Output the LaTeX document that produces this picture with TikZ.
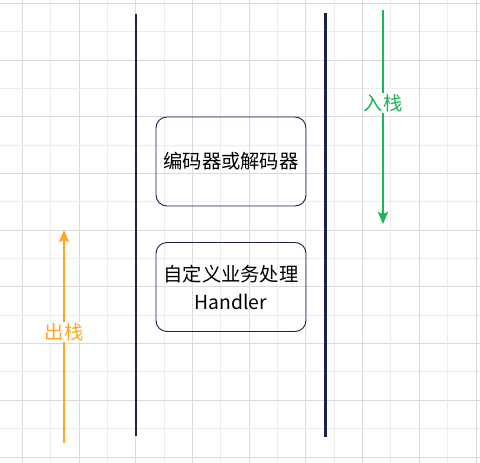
\documentclass[tikz,border=0pt]{standalone}
\usepackage{fontspec}
\usepackage{xcolor}
\newfontfamily\cjk{Noto Sans CJK SC}
\usetikzlibrary{arrows.meta,positioning,calc}
\definecolor{navy}{HTML}{1A2150}
\definecolor{pushgreen}{HTML}{1DB45A}
\definecolor{poporange}{HTML}{FFA526}
\definecolor{gridmajor}{HTML}{DADADA}
\definecolor{gridminor}{HTML}{ECECEC}

\begin{document}
\begin{tikzpicture}[x=1pt,y=-1pt,
        handlerbox/.style={draw=navy, line width=0.9pt, rounded corners=11pt, minimum width=150pt, minimum height=89pt, align=center, font=\cjk\fontsize{19.3}{28}\selectfont, text=black},
        wall/.style={navy, line width=2.2pt},
        flowlabel/.style={fill=white, inner sep=1pt, font=\cjk\fontsize{19.3}{22}\selectfont}]
        \useasboundingbox (0,0) rectangle (480,463);
        \fill[white] (0,0) rectangle (480,463);

        % Grid
        \foreach \i in {0,...,16} {
            \pgfmathsetmacro{\gx}{22.3+\i*28.35}
            \pgfmathsetmacro{\gy}{3.3+\i*28.35}
            \ifodd\i
                \draw[gridminor, line width=0.8pt] (\gx,0) -- (\gx,463);
                \draw[gridminor, line width=0.8pt] (0,\gy) -- (480,\gy);
            \else
                \draw[gridmajor, line width=0.8pt] (\gx,0) -- (\gx,463);
                \draw[gridmajor, line width=0.8pt] (0,\gy) -- (480,\gy);
            \fi
        }

        % Pipeline walls
        \coordinate (ltop) at (136,14);
        \coordinate (lbot) at (136,436);
        \coordinate (rtop) at (325.3,13);
        \coordinate (rbot) at (325.3,437);
        \draw[wall] (ltop) -- (lbot);
        \draw[wall, line width=2.8pt] (rtop) -- (rbot);

        % Handlers
        \node[handlerbox] (codec) at (231,161.5) {编码器或解码器};
        \node[handlerbox] (biz) at (231,287) {自定义业务处理\\Handler};

        % Inbound
        \coordinate (intop) at (383,10);
        \coordinate (inbot) at (383,224);
        \draw[pushgreen, line width=1.6pt, -{Stealth[length=12pt,width=10pt,inset=2pt]}] (intop) -- (inbot);
        \node[flowlabel, text=pushgreen] (inlabel) at (383,103) {入栈};

        % Outbound
        \coordinate (outbot) at (64,443);
        \coordinate (outtop) at (64,230);
        \draw[poporange, line width=1.6pt, -{Stealth[length=12pt,width=10pt,inset=2pt]}] (outbot) -- (outtop);
        \node[flowlabel, text=poporange] (outlabel) at (64,332) {出栈};
\end{tikzpicture}
\end{document}
